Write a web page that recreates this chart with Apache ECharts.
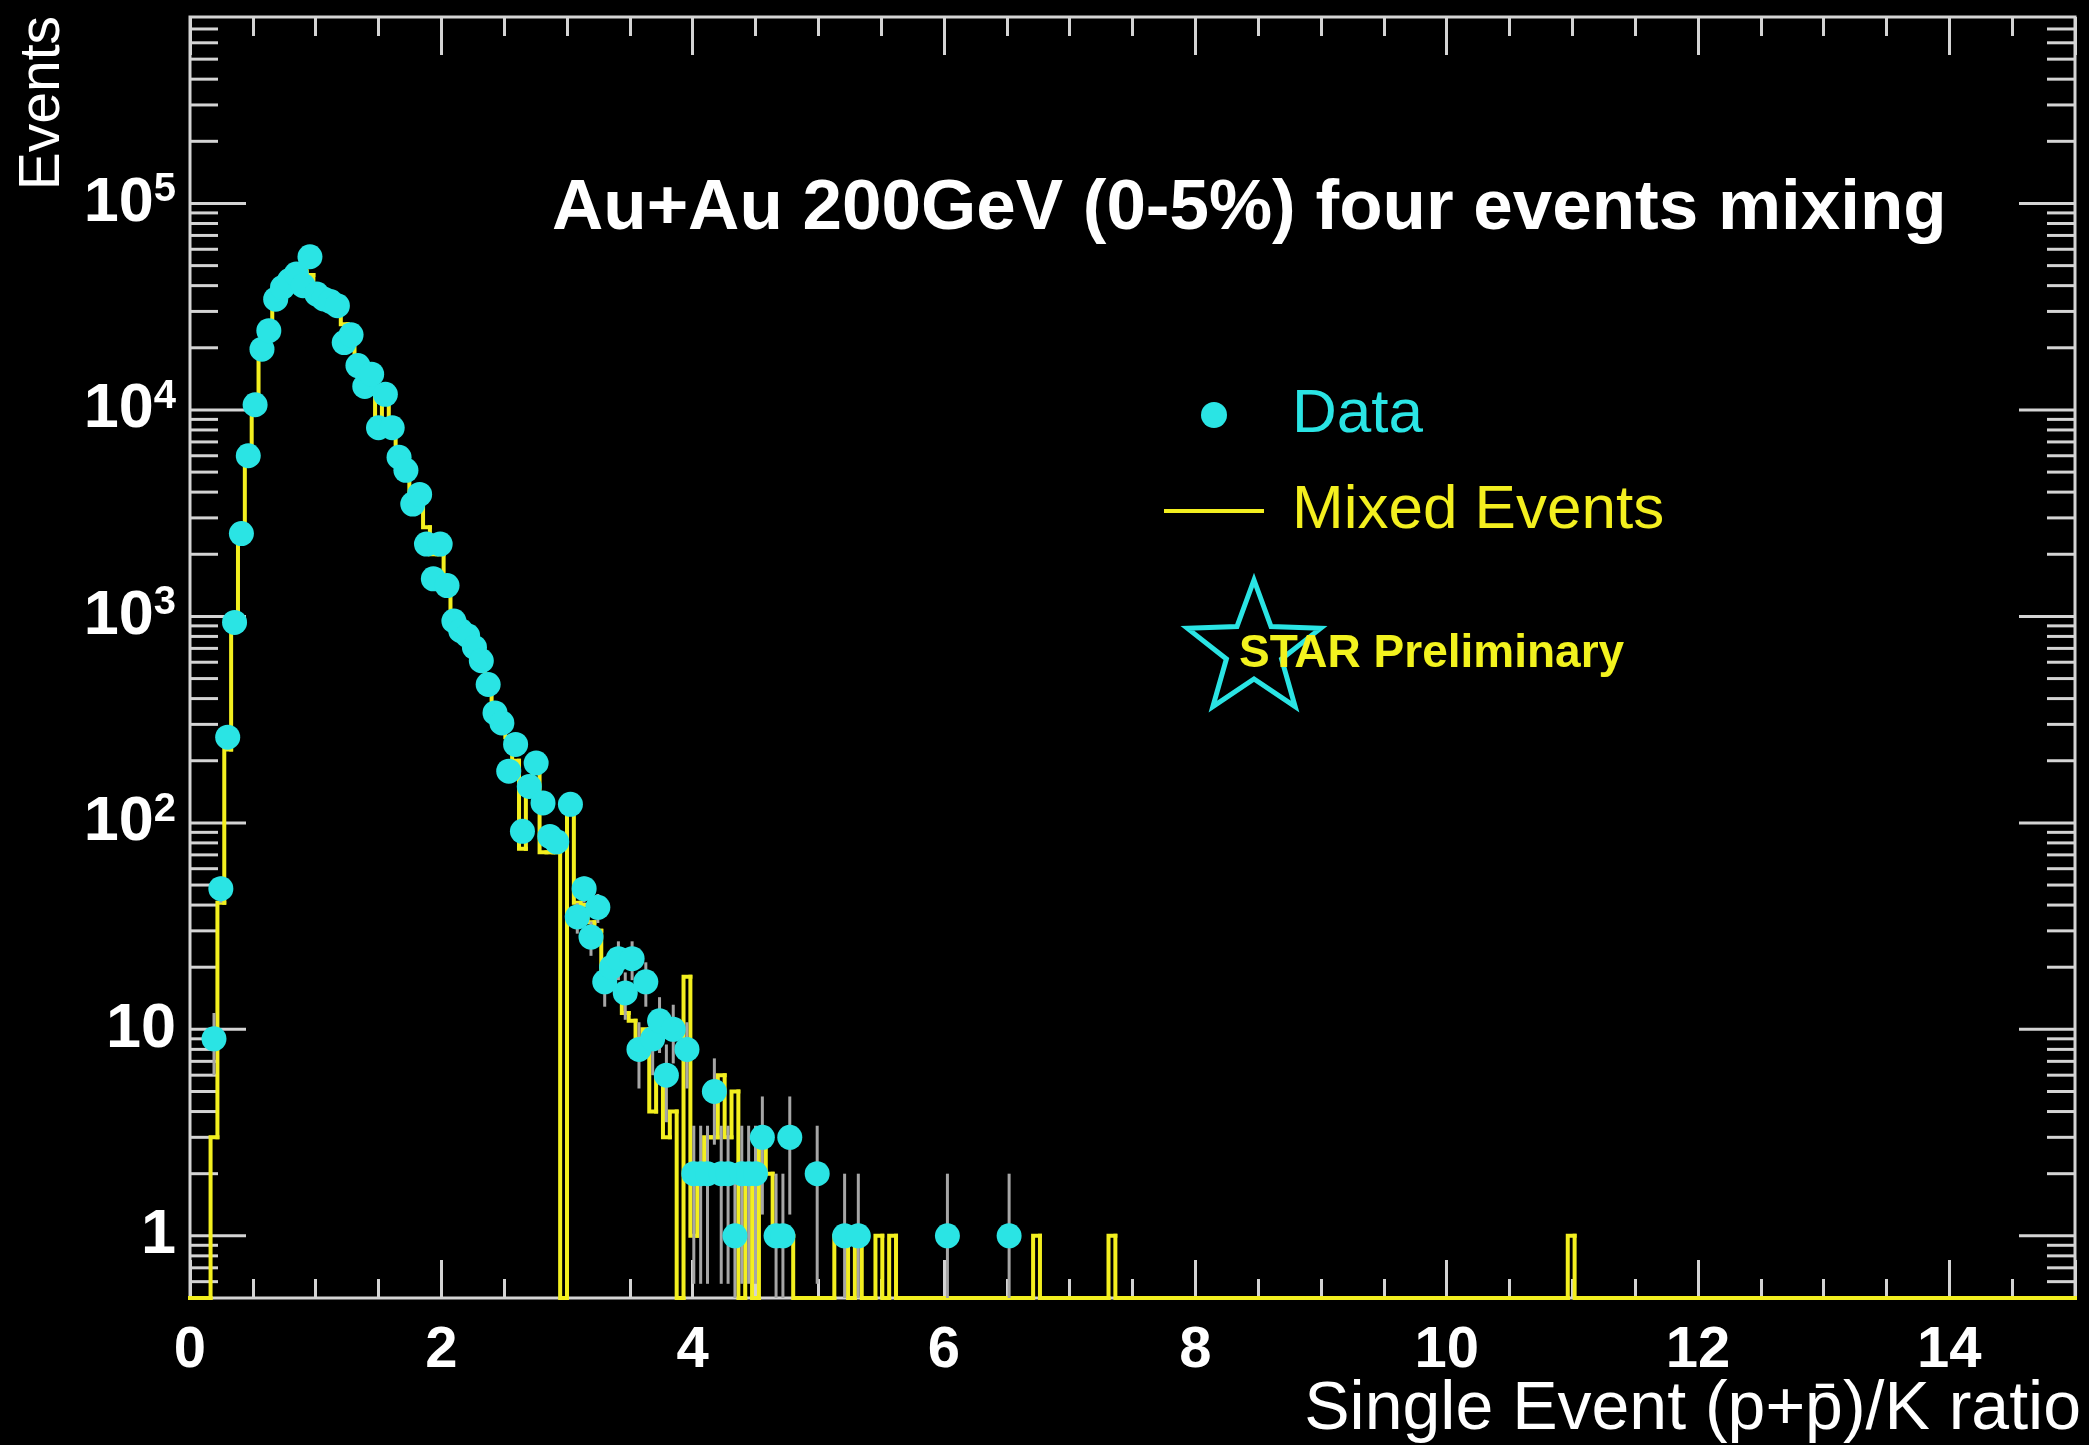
<!DOCTYPE html>
<html>
<head>
<meta charset="utf-8">
<title>Single Event (p+p̄)/K ratio</title>
<script src="https://cdn.jsdelivr.net/npm/echarts@6/dist/echarts.min.js"></script>
<style>
  html, body { margin: 0; padding: 0; background: #000; }
  #main { width: 2089px; height: 1445px; }
</style>
</head>
<body>
<div id="main"></div>
<script>
// histogram binning: 275 bins on [0, 15]
var nBins = 275;
var xMin = 0, xMax = 15;
var yMin = 0.5, yMax = 8e5;
var binWidth = (xMax - xMin) / nBins;

// data points: bin index -> events
var dataBins = [3, 4, 5, 6, 7, 8, 9, 10, 11, 12, 13, 14, 15, 16, 17, 18, 19, 20, 21, 22,
    23, 24, 25, 26, 27, 28, 29, 30, 31, 32, 33, 34, 35, 36, 37, 38, 39, 40, 41, 42,
    43, 44, 45, 46, 47, 48, 49, 50, 51, 52, 53, 55, 56, 57, 58, 59, 60, 61, 62, 63,
    64, 65, 66, 67, 68, 69, 70, 72, 73, 74, 75, 76, 77, 78, 79, 80, 81, 82, 83, 85,
    86, 87, 91, 95, 97, 110, 119];
var dataCounts = [9, 48, 260, 935, 2520, 6000, 10600, 19700, 24200, 34400, 39200, 42300, 45500, 40000, 55200, 36400, 34500, 33500, 32000, 21200,
    23100, 16400, 13000, 14900, 8200, 11900, 8200, 5900, 5100, 3500, 3900, 2240, 1520, 2240, 1410, 950, 853, 807, 708, 610,
    468, 341, 305, 178, 240, 91, 150, 195, 125, 86, 81, 123, 35, 48, 28, 39, 17, 20, 22, 15,
    22, 8, 17, 9, 11, 6, 10, 8, 2, 2, 2, 5, 2, 2, 1, 2, 2, 2, 3, 1,
    1, 3, 2, 1, 1, 1, 1];

// mixed events, bins 0..103
var mixedCounts = [0, 0, 0, 3, 41, 227, 900, 2600, 6200, 11000,
    19000, 26000, 33000, 39000, 43000, 46000, 47000, 45000, 40000, 36000,
    33000, 30000, 26000, 22000, 18000, 14500, 12500, 9000, 11000, 7800,
    6200, 5000, 4000, 3600, 2700, 2000, 2000, 1500, 1000, 880,
    780, 700, 600, 470, 360, 290, 260, 200, 75, 160,
    180, 72, 72, 72, 0, 125, 41, 40, 33, 30,
    17, 20, 15, 12, 11, 9, 10, 4, 6, 3,
    4, 0, 18, 1, 2, 3, 3, 6, 3, 5,
    0, 2, 0, 3, 2, 1, 1, 1, 0, 0,
    0, 0, 0, 0, 1, 1, 0, 1, 0, 0,
    1, 0, 1, 0];
// lone mixed-event bins further out
var mixedSpikeBins = [123, 134, 201];
var mixedSpikeCounts = [1, 1, 1];

var xTickLabels = [0, 2, 4, 6, 8, 10, 12, 14];
var yTickValues = [1, 10, 100, 1000, 10000, 100000];
var yTickLabels = ['{b|1}', '{b|10}', '{b|10}{s|2}', '{b|10}{s|3}', '{b|10}{s|4}', '{b|10}{s|5}'];

var FONT = "'Liberation Sans', Arial, Helvetica, sans-serif";
var CYAN = '#2ae4e4';
var YELLOW = '#f3ef1f';
var FRAME = '#d4d4d4';
var ERRGRAY = '#a6a6a6';

function clampY(v) {
    return v > yMin ? v : yMin;
}

var dataPoints = dataBins.map(function (b, i) {
    return [(b + 0.5) * binWidth, dataCounts[i]];
});

var mixedAll = [];
for (var i = 0; i < nBins; i++) {
    mixedAll.push(i < mixedCounts.length ? mixedCounts[i] : 0);
}
mixedSpikeBins.forEach(function (b, k) {
    mixedAll[b] = mixedSpikeCounts[k];
});
// [left edge, right edge, content, content of previous bin]
var mixedSteps = mixedAll.map(function (c, i) {
    return [i * binWidth, (i + 1) * binWidth, c, i > 0 ? mixedAll[i - 1] : 0];
});

// y ticks on both sides of the frame: majors at 10^n, minors at 2..9 x 10^n
var yTickMarks = [];
yTickValues.forEach(function (v) {
    yTickMarks.push([xMin, v, 56]);
});
for (var e = -1; e <= 5; e++) {
    for (var m = 2; m <= 9; m++) {
        var v = m * Math.pow(10, e);
        if (v > yMin * 1.001 && v < yMax * 0.999) yTickMarks.push([xMin, v, 28]);
    }
}

// star of the STAR logo
var starPts = [];
for (var k = 0; k < 10; k++) {
    var rad = k % 2 ? 29 : 70;
    var ang = -Math.PI / 2 + k * Math.PI / 5;
    starPts.push([1254 + rad * Math.cos(ang), 650 + rad * Math.sin(ang)]);
}

var myChart = echarts.init(document.getElementById('main'));

var xAxisCommon = {
    type: 'value',
    min: xMin,
    max: xMax,
    interval: 2,
    axisLine: { show: false },
    splitLine: { show: false },
    axisTick: { show: true, inside: true, length: 38, lineStyle: { color: FRAME, width: 3 } },
    minorTick: { show: true, splitNumber: 4, length: 19, lineStyle: { color: FRAME, width: 3 } }
};

option = {
    backgroundColor: '#000',
    animation: false,
    title: {
        text: 'Au+Au 200GeV (0-5%) four events mixing',
        left: 547,
        top: 169,
        textStyle: { color: '#ffffff', fontSize: 71, fontWeight: 'bold', fontFamily: FONT }
    },
    legend: {
        orient: 'vertical',
        left: 1159,
        top: 379,
        itemWidth: 100,
        itemHeight: 26,
        itemGap: 34,
        selectedMode: false,
        textStyle: { fontSize: 62, fontFamily: FONT, padding: [0, 0, 0, 23] },
        data: [
            { name: 'Data', icon: 'circle', itemStyle: { color: CYAN }, textStyle: { color: CYAN } },
            { name: 'Mixed Events', icon: 'path://M0,0H100V4H0Z', itemStyle: { color: YELLOW }, textStyle: { color: YELLOW } }
        ]
    },
    grid: {
        left: 190,
        right: 14,
        top: 17,
        bottom: 147,
        show: true,
        borderColor: FRAME,
        borderWidth: 3,
        backgroundColor: 'transparent',
        outerBoundsMode: 'none'
    },
    xAxis: [
        echarts.util.merge({
            position: 'bottom',
            axisLabel: {
                show: true,
                margin: 24,
                color: '#ffffff',
                fontSize: 58,
                fontWeight: 'bold',
                fontFamily: FONT,
                formatter: function (val) {
                    return xTickLabels.indexOf(val) >= 0 ? String(val) : '';
                }
            }
        }, xAxisCommon, true),
        echarts.util.merge({ position: 'top', axisLabel: { show: false } }, xAxisCommon, true)
    ],
    yAxis: {
        type: 'log',
        logBase: 10,
        min: yMin,
        max: yMax,
        position: 'left',
        axisLine: { show: false },
        splitLine: { show: false },
        axisTick: { show: false },
        minorTick: { show: false },
        axisLabel: {
            show: true,
            margin: 14,
            color: '#ffffff',
            formatter: function (val) {
                var ex = Math.log(val) / Math.LN10;
                var r = Math.round(ex);
                if (Math.abs(ex - r) > 1e-6 || yTickValues.indexOf(Math.pow(10, r)) < 0) return '';
                return yTickLabels[yTickValues.indexOf(Math.pow(10, r))];
            },
            rich: {
                b: { fontSize: 63, fontWeight: 'bold', color: '#ffffff', fontFamily: FONT, lineHeight: 66 },
                s: { fontSize: 40, fontWeight: 'bold', color: '#ffffff', fontFamily: FONT, lineHeight: 40, verticalAlign: 'top' }
            }
        }
    },
    graphic: [
        {
            type: 'text',
            x: 43,
            y: 16,
            rotation: Math.PI / 2,
            style: {
                text: 'Events',
                fill: '#ffffff',
                font: '57px ' + FONT,
                align: 'right', verticalAlign: 'middle',
                textAlign: 'right', textVerticalAlign: 'middle'
            }
        },
        {
            type: 'text',
            x: 2081,
            y: 1410,
            style: {
                text: 'Single Event (p+p\u0304)/K ratio',
                fill: '#ffffff',
                font: '68px ' + FONT,
                align: 'right', verticalAlign: 'middle',
                textAlign: 'right', textVerticalAlign: 'middle'
            }
        },
        {
            type: 'polygon',
            z: 10,
            shape: { points: starPts },
            style: { fill: '#000000', stroke: CYAN, lineWidth: 5 }
        },
        {
            type: 'text',
            z: 11,
            x: 1239,
            y: 654,
            style: {
                text: 'STAR Preliminary',
                fill: '#f2f21e',
                font: 'bold 46px ' + FONT,
                align: 'left', verticalAlign: 'middle',
                textAlign: 'left', textVerticalAlign: 'middle'
            }
        }
    ],
    series: [
        {
            // log ticks pointing inward on both sides of the frame
            name: 'yTicks',
            type: 'custom',
            silent: true,
            z: 1,
            data: yTickMarks,
            encode: { x: 0, y: 1 },
            renderItem: function (params, api) {
                var len = api.value(2);
                var l = api.coord([xMin, api.value(1)]);
                var r = api.coord([xMax, api.value(1)]);
                return {
                    type: 'group',
                    children: [
                        { type: 'line', shape: { x1: l[0], y1: l[1], x2: l[0] + len, y2: l[1] }, style: { stroke: FRAME, lineWidth: 3 } },
                        { type: 'line', shape: { x1: r[0] - len, y1: r[1], x2: r[0], y2: r[1] }, style: { stroke: FRAME, lineWidth: 3 } }
                    ]
                };
            }
        },
        {
            name: 'Mixed Events',
            type: 'custom',
            silent: true,
            z: 2,
            itemStyle: { color: YELLOW },
            data: mixedSteps,
            encode: { x: 0, y: 2 },
            renderItem: function (params, api) {
                var x0 = api.value(0), x1 = api.value(1);
                var cur = clampY(api.value(2)), prev = clampY(api.value(3));
                var a = api.coord([x0, prev]);
                var b = api.coord([x0, cur]);
                var c = api.coord([x1, cur]);
                return {
                    type: 'polyline',
                    shape: { points: [a, b, c] },
                    style: { stroke: YELLOW, lineWidth: 4, fill: null, lineJoin: 'miter', lineCap: 'square' }
                };
            }
        },
        {
            // poisson error bars of the data
            name: 'errors',
            type: 'custom',
            silent: true,
            z: 3,
            data: dataPoints,
            encode: { x: 0, y: 1 },
            renderItem: function (params, api) {
                var x = api.value(0), n = api.value(1);
                var lo = api.coord([x, clampY(n - Math.sqrt(n))]);
                var hi = api.coord([x, n + Math.sqrt(n)]);
                return {
                    type: 'line',
                    shape: { x1: lo[0], y1: lo[1], x2: hi[0], y2: hi[1] },
                    style: { stroke: ERRGRAY, lineWidth: 3 }
                };
            }
        },
        {
            name: 'Data',
            type: 'scatter',
            z: 4,
            symbol: 'circle',
            symbolSize: 25,
            itemStyle: { color: CYAN, opacity: 1 },
            data: dataPoints
        }
    ]
};

myChart.setOption(option);
</script>
</body>
</html>
